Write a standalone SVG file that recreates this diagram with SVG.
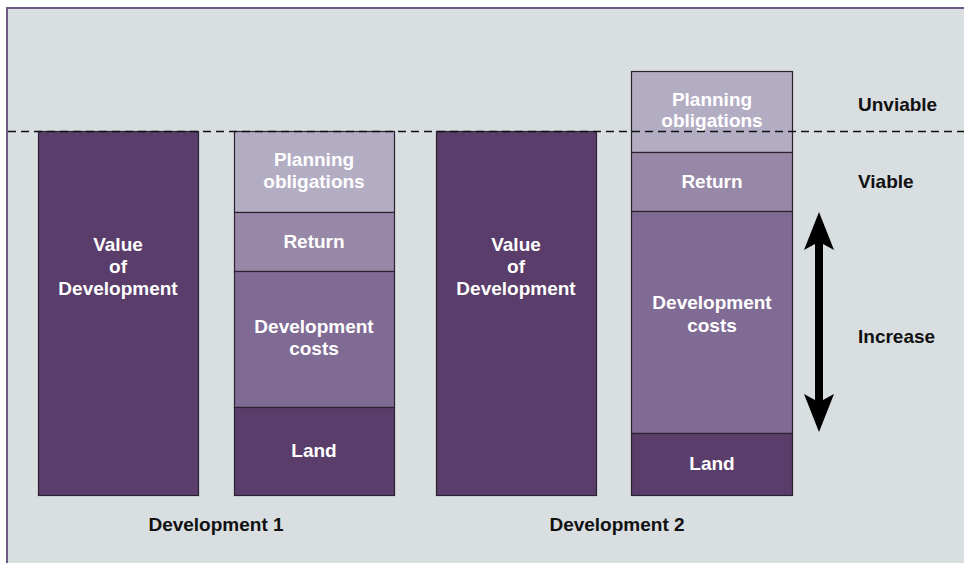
<svg xmlns="http://www.w3.org/2000/svg" width="964" height="563" viewBox="0 0 964 563">
<style>
.t{font-family:"Liberation Sans",Arial,sans-serif;font-weight:bold;font-size:19px;text-anchor:middle;fill:#fff}
.k{font-family:"Liberation Sans",Arial,sans-serif;font-weight:bold;font-size:19px;fill:#111}
.b{stroke:#2a2230;stroke-width:1.2}
.dark{fill:#5a3d6a}.cost{fill:#806b94}.ret{fill:#9888a8}.plan{fill:#b3adc4}
</style>
<rect x="0" y="0" width="964" height="563" fill="#fff"/>
<rect x="7" y="8" width="960" height="560" fill="#d9dee1" stroke="#6f5a86" stroke-width="2"/>
<g id="dev1-value"><rect class="b dark" x="38.5" y="131.5" width="160" height="364"/>
<text class="t" x="118" y="251">Value</text><text class="t" x="118" y="273">of</text><text class="t" x="118" y="295">Development</text></g>
<g id="dev1-planning"><rect class="b plan" x="234.5" y="131.5" width="160" height="81"/>
<text class="t" x="314" y="166">Planning</text><text class="t" x="314" y="188">obligations</text></g>
<g id="dev1-return"><rect class="b ret" x="234.5" y="212.5" width="160" height="59"/>
<text class="t" x="314" y="248">Return</text></g>
<g id="dev1-costs"><rect class="b cost" x="234.5" y="271.5" width="160" height="136"/>
<text class="t" x="314" y="333">Development</text><text class="t" x="314" y="355">costs</text></g>
<g id="dev1-land"><rect class="b dark" x="234.5" y="407.5" width="160" height="88"/>
<text class="t" x="314" y="457">Land</text></g>
<g id="dev2-value"><rect class="b dark" x="436.5" y="131.5" width="160" height="364"/>
<text class="t" x="516" y="251">Value</text><text class="t" x="516" y="273">of</text><text class="t" x="516" y="295">Development</text></g>
<g id="dev2-planning"><rect class="b plan" x="631.5" y="71.5" width="161" height="81"/>
<text class="t" x="712" y="106">Planning</text><text class="t" x="712" y="127">obligations</text></g>
<g id="dev2-return"><rect class="b ret" x="631.5" y="152.5" width="161" height="59"/>
<text class="t" x="712" y="188">Return</text></g>
<g id="dev2-costs"><rect class="b cost" x="631.5" y="211.5" width="161" height="222"/>
<text class="t" x="712" y="309">Development</text><text class="t" x="712" y="332">costs</text></g>
<g id="dev2-land"><rect class="b dark" x="631.5" y="433.5" width="161" height="62"/>
<text class="t" x="712" y="470">Land</text></g>
<g id="connectors">
<line x1="8" y1="131.5" x2="964" y2="131.5" stroke="#111" stroke-width="1.5" stroke-dasharray="8,5"/>
<path d="M819 212 L834 250 L823 244 L823 400 L834 394 L819 432 L804 394 L815 400 L815 244 L804 250 Z" fill="#000"/>
</g>
<g id="labels">
<text class="k" x="858" y="111">Unviable</text>
<text class="k" x="858" y="188">Viable</text>
<text class="k" x="858" y="343">Increase</text>
<text class="k" x="216" y="531" text-anchor="middle">Development 1</text>
<text class="k" x="617" y="531" text-anchor="middle">Development 2</text>
</g>
</svg>
